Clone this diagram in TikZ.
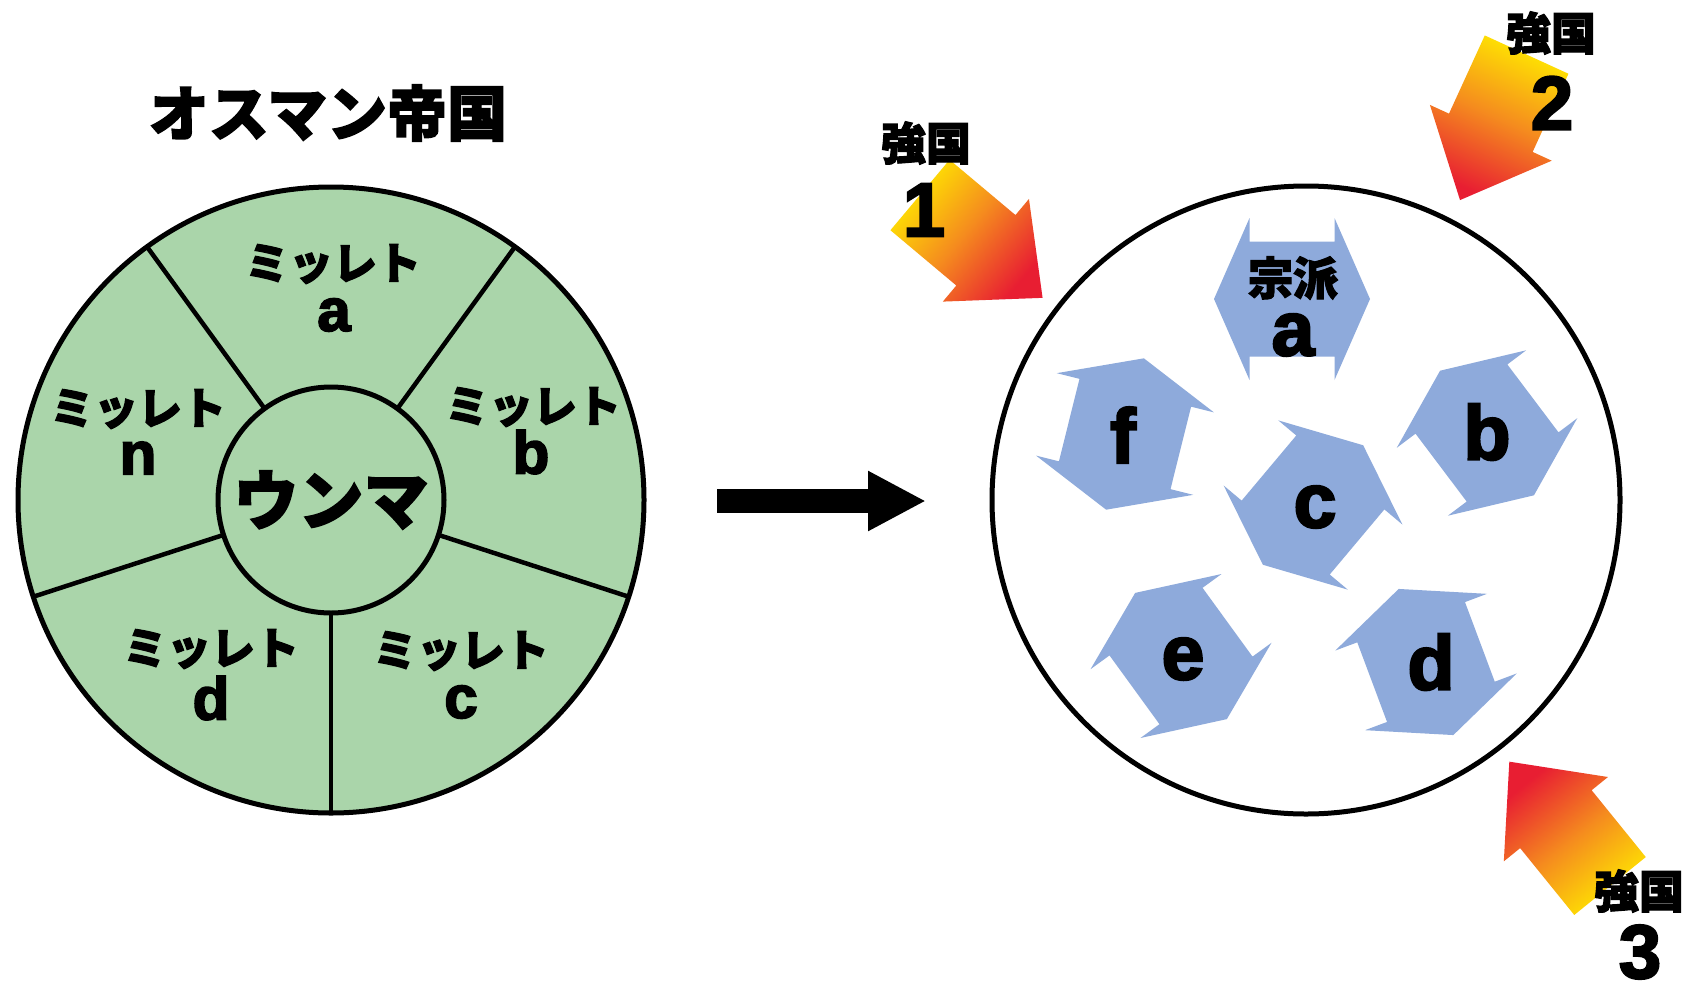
\documentclass[tikz,border=0pt]{standalone}
\usepackage{fontspec}
\setmainfont{Liberation Sans}
\newfontfamily\cjk{Noto Sans CJK JP}[BoldFeatures={FakeBold=2.5}]
\newfontfamily\latn{Liberation Sans}[BoldFeatures={FakeBold=3}]
\usetikzlibrary{arrows.meta,calc}
\definecolor{milletgreen}{RGB}{170,213,170}
\definecolor{sectblue}{RGB}{142,170,219}
\definecolor{fyellow}{RGB}{255,232,0}
\definecolor{forange}{RGB}{245,140,30}
\definecolor{fred}{RGB}{232,30,50}
\newcommand\sectshape[3]{%
  \fill[sectblue, shift={(#1,#2)}, rotate=#3]
    (-78,0) -- (-42.5,81) -- (-42.5,57.5) -- (42.5,57.5) -- (42.5,81) -- (78,0)
    -- (42.5,-81) -- (42.5,-57.5) -- (-42.5,-57.5) -- (-42.5,-81) -- cycle;}
\newcommand\forcearrow[4]{%
  \shade[shift={(#1,#2)}, rotate=#3, top color=fyellow, bottom color=fred,
         middle color=forange, shading angle=#4]
    (0,-46) -- (86,-46) -- (86,-67) -- (160,0) -- (86,67) -- (86,46) -- (0,46) -- cycle;}
\begin{document}
\begin{tikzpicture}[x=1pt,y=-1pt,
  ring/.style={circle, draw=black, line width=5pt, inner sep=0pt, outer sep=0pt},
  divider/.style={draw=black, line width=4.5pt},
  bigarrow/.style={draw=black, line width=24pt, -{Triangle[length={58pt 0},width={56pt 0}]}},
  titletext/.style={inner sep=0pt, font=\cjk\bfseries\fontsize{60}{60}\selectfont},
  ummatext/.style={font=\cjk\bfseries\fontsize{65}{65}\selectfont},
  milletword/.style={inner sep=0pt, font=\cjk\bfseries\fontsize{44}{44}\selectfont},
  milletletter/.style={inner sep=0pt, font=\latn\bfseries\fontsize{60}{60}\selectfont},
  sectword/.style={inner sep=0pt, font=\cjk\bfseries\fontsize{45}{45}\selectfont},
  sectletter/.style={inner sep=0pt, font=\latn\bfseries\fontsize{77}{77}\selectfont},
  powerword/.style={inner sep=0pt, font=\cjk\bfseries\fontsize{45}{45}\selectfont},
  powernum/.style={inner sep=0pt, font=\latn\bfseries\fontsize{76}{76}\selectfont},
]
\useasboundingbox (0,0) rectangle (1688,996);
\fill[white] (0,0) rectangle (1688,996);

% left: Ottoman Empire
\node[titletext] (title) at (328,113) {オスマン帝国};
\node[ring, fill=milletgreen, minimum size=626pt] (ottoman) at (331,500) {};
\node[ring, fill=milletgreen, minimum size=226pt, ummatext] (umma) at (331,500) {ウンマ};
\foreach \a in {54,126,198,270,342} \draw[divider] (umma.\a) -- (ottoman.\a);

\node[milletword] (wa) at (333,264) {ミッレト};
\node[milletletter] (la) at (334,315) {a};
\node[milletword] (wn) at (138,409) {ミッレト};
\node[milletletter] (ln) at (138,458) {n};
\node[milletword] (wb) at (533,407) {ミッレト};
\node[milletletter] (lb) at (531,452) {b};
\node[milletword] (wd) at (211,649) {ミッレト};
\node[milletletter] (ld) at (211,698) {d};
\node[milletword] (wc) at (461,651) {ミッレト};
\node[milletletter] (lc) at (461,702) {c};

% middle arrow
\coordinate (arrowS) at (717,501);
\coordinate (arrowE) at (926,501);
\draw[bigarrow] (arrowS) -- (arrowE);

% right: sects
\node[ring, fill=white, minimum size=628pt] (realm) at (1306,500) {};
\sectshape{1292}{299}{0}
\sectshape{1125}{434}{76}
\sectshape{1313}{505}{50}
\sectshape{1487}{433}{127}
\sectshape{1181}{656}{126}
\sectshape{1426}{662}{110.5}
\node[sectword] (sa) at (1293,278) {宗派};
\node[sectletter] (ta) at (1293,335) {a};
\node[sectletter] (tf) at (1123,435) {f};
\node[sectletter] (tb) at (1487,432) {b};
\node[sectletter] (tc) at (1315,507) {c};
\node[sectletter] (te) at (1183,659) {e};
\node[sectletter] (td) at (1431,662) {d};

% great powers
\forcearrow{920}{195}{-40}{50}
\forcearrow{1526.6}{54.6}{-114.6}{-24.6}
\forcearrow{1610}{886}{129}{-141}
\node[powerword] (p1w) at (926,143) {強国};
\node[powernum] (p1n) at (924,210) {1};
\node[powerword] (p2w) at (1551,33) {強国};
\node[powernum] (p2n) at (1552,103) {2};
\node[powerword] (p3w) at (1639,891) {強国};
\node[powernum] (p3n) at (1640,952) {3};
\end{tikzpicture}
\end{document}
